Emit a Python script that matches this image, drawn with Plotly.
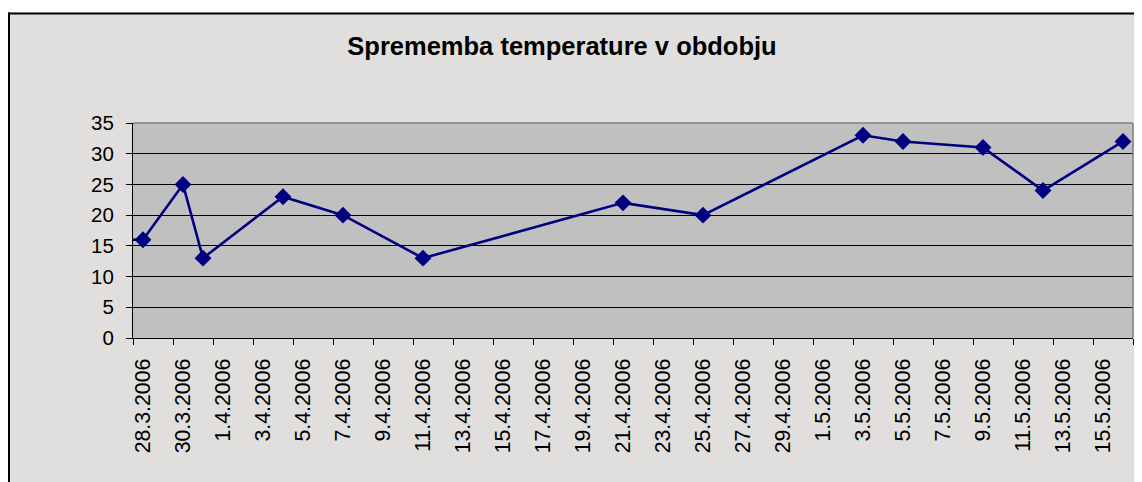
import plotly.graph_objects as go

# ---- data ----
dates = ["2006-03-27", "2006-03-28", "2006-03-30", "2006-03-31", "2006-04-04",
         "2006-04-07", "2006-04-11", "2006-04-21", "2006-04-25", "2006-05-03",
         "2006-05-05", "2006-05-09", "2006-05-12", "2006-05-16"]
temps = [16, 16, 25, 13, 23, 20, 13, 22, 20, 33, 32, 31, 24, 32]

tick_dates = ["2006-03-28", "2006-03-30", "2006-04-01", "2006-04-03", "2006-04-05",
              "2006-04-07", "2006-04-09", "2006-04-11", "2006-04-13", "2006-04-15",
              "2006-04-17", "2006-04-19", "2006-04-21", "2006-04-23", "2006-04-25",
              "2006-04-27", "2006-04-29", "2006-05-01", "2006-05-03", "2006-05-05",
              "2006-05-07", "2006-05-09", "2006-05-11", "2006-05-13", "2006-05-15"]
tick_labels = ["28.3.2006", "30.3.2006", "1.4.2006", "3.4.2006", "5.4.2006",
               "7.4.2006", "9.4.2006", "11.4.2006", "13.4.2006", "15.4.2006",
               "17.4.2006", "19.4.2006", "21.4.2006", "23.4.2006", "25.4.2006",
               "27.4.2006", "29.4.2006", "1.5.2006", "3.5.2006", "5.5.2006",
               "7.5.2006", "9.5.2006", "11.5.2006", "13.5.2006", "15.5.2006"]
y_ticks = [0, 5, 10, 15, 20, 25, 30, 35]
title_text = "Sprememba temperature v obdobju"

FONT = "Liberation Sans, Arial, sans-serif"
CHART_BG = "#e0dfdd"
PLOT_BG = "#c0c0c0"
LINE = "#000080"

# page body has an 8px margin; figure sized to fit the window exactly
OFF = 8
W, H = 1142 - OFF, 482 - OFF
ML, MR, MT, MB = 133 - OFF, 9, 123 - OFF, H - (338 - OFF)
PW, PH = W - ML - MR, H - MT - MB

def px2x(px):  # screen px -> paper x
    return (px - OFF - ML) / PW

def py2y(py):  # screen px -> paper y
    return (H - MB - (py - OFF)) / PH

fig = go.Figure()
fig.add_trace(go.Scatter(
    x=dates, y=temps, mode="lines+markers",
    line=dict(color=LINE, width=2.6),
    marker=dict(symbol="diamond", size=13, color=LINE),
    showlegend=False, hoverinfo="x+y",
))

shapes = [
    # white strip above the chart frame
    dict(type="rect", xref="paper", yref="paper", x0=px2x(0), x1=px2x(1150),
         y0=py2y(12.5), y1=py2y(0), fillcolor="white", line=dict(width=0), layer="below"),
    # black frame lines (top, left)
    dict(type="line", xref="paper", yref="paper", x0=px2x(8), x1=px2x(1150),
         y0=py2y(13.5), y1=py2y(13.5), line=dict(color="black", width=2)),
    dict(type="line", xref="paper", yref="paper", x0=px2x(9), x1=px2x(9),
         y0=py2y(12.5), y1=py2y(490), line=dict(color="black", width=2)),
    # gray plot-area border, top and right
    dict(type="line", xref="paper", yref="paper", x0=0, x1=1, y0=1, y1=1,
         line=dict(color="#808080", width=1.5)),
    dict(type="line", xref="paper", yref="paper", x0=1, x1=1, y0=0, y1=1,
         line=dict(color="#808080", width=1.5)),
]

fig.update_layout(
    width=W, height=H,
    margin=dict(l=ML, r=MR, t=MT, b=MB, pad=0),
    paper_bgcolor=CHART_BG, plot_bgcolor=PLOT_BG,
    font=dict(family=FONT, color="black", size=20),
    title=dict(text="<b>" + title_text + "</b>", x=px2x(562), xref="paper", xanchor="center",
               y=1 - (46 - OFF) / H, yref="container", yanchor="middle",
               font=dict(family=FONT, size=25.5, color="black")),
    shapes=shapes,
    xaxis=dict(
        type="date",
        range=["2006-03-27 12:00", "2006-05-16 12:00"],
        tickmode="array", tickvals=tick_dates, ticktext=tick_labels,
        tickangle=-90, ticks="", showgrid=False, zeroline=False,
        showline=True, linecolor="black", linewidth=1.2,
        tickfont=dict(family=FONT, size=21.3, color="black"),
        ticklabelstandoff=11,
        minor=dict(ticks="outside", ticklen=6, tickcolor="black", tickwidth=1,
                   tick0="2006-03-27 12:00", dtick=2 * 86400000, showgrid=False),
    ),
    yaxis=dict(
        range=[0, 35], tickmode="array", tickvals=y_ticks,
        ticks="outside", ticklen=6, tickcolor="black", tickwidth=1,
        showgrid=True, gridcolor="black", gridwidth=1, zeroline=False,
        showline=True, linecolor="black", linewidth=1.2,
        tickfont=dict(family=FONT, size=20.5, color="black"),
        ticklabelstandoff=8,
    ),
)

fig.write_html("out.html")
